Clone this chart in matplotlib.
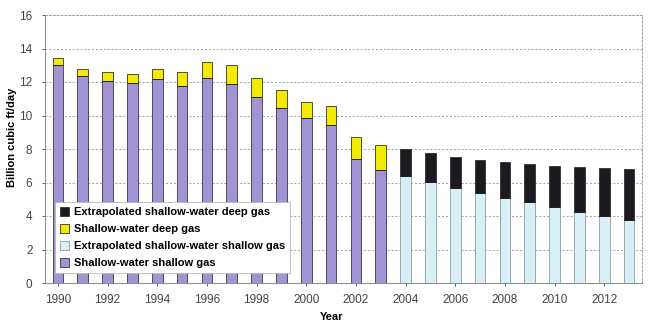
import numpy as np
import matplotlib
matplotlib.use("Agg")
import matplotlib.pyplot as plt

plt.rcParams['font.family'] = ['Liberation Sans', 'DejaVu Sans']

# data (billion cubic ft/day)
years = np.arange(1990, 2014)
shallow_shallow = [13.0, 12.35, 12.08, 11.92, 12.2, 11.78, 12.22, 11.86, 11.09, 10.47,
                   9.83, 9.45, 7.38, 6.75] + [0] * 10
shallow_deep = [0.41, 0.41, 0.5, 0.54, 0.58, 0.84, 0.95, 1.17, 1.17, 1.03,
                0.98, 1.12, 1.35, 1.49] + [0] * 10
extrap_shallow = [0] * 14 + [6.41, 6.05, 5.69, 5.39, 5.07, 4.82, 4.52, 4.26, 4.02, 3.76]
extrap_deep = [0] * 14 + [1.57, 1.69, 1.85, 1.94, 2.14, 2.27, 2.45, 2.65, 2.83, 3.07]

c_purple = '#a294d2'
c_yellow = '#f2ea00'
c_lblue = '#d8eff6'
c_black = '#1c1a1e'

fig = plt.figure(figsize=(6.57, 3.24), dpi=100)
ax = fig.add_axes([45/657, 1 - 283/324, 597/657, 268/324])

w = 0.43
b1 = ax.bar(years, shallow_shallow, w, color=c_purple, edgecolor='#3a3450', linewidth=0.6,
            label='Shallow-water shallow gas', zorder=3)
b2 = ax.bar(years, extrap_shallow, w, color=c_lblue, edgecolor='#7a8c94', linewidth=0.5,
            label='Extrapolated shallow-water shallow gas', zorder=3)
bot = np.array(shallow_shallow) + np.array(extrap_shallow)
b3 = ax.bar(years, shallow_deep, w, bottom=bot, color=c_yellow, edgecolor='#3a3420', linewidth=0.6,
            label='Shallow-water deep gas', zorder=3)
b4 = ax.bar(years, extrap_deep, w, bottom=bot, color=c_black, edgecolor=c_black, linewidth=0.5,
            label='Extrapolated shallow-water deep gas', zorder=3)

ax.set_xlim(1989.48, 2013.52)
ax.set_ylim(0, 16)
ax.set_yticks(range(0, 17, 2))
ax.set_xticks(range(1990, 2013, 2))
ax.yaxis.grid(True, linestyle=(0, (2, 2)), color='#a0a0a0', linewidth=0.7, zorder=0)
for s in ['top', 'right']:
    ax.spines[s].set_linestyle((0, (2, 2)))
    ax.spines[s].set_color('#a0a0a0')
    ax.spines[s].set_linewidth(0.7)
for s in ['left', 'bottom']:
    ax.spines[s].set_color('#909090')
    ax.spines[s].set_linewidth(0.8)
ax.tick_params(labelsize=8.5, colors='#444444', length=2, width=0.6)
ax.tick_params(axis='y', pad=7)
ax.tick_params(axis='x', pad=6)

ax.set_ylabel('Billion cubic ft/day', fontsize=8, fontweight='bold')
ax.yaxis.set_label_coords(-0.047, 0.545)
ax.set_xlabel('Year', fontsize=8, fontweight='bold')
ax.xaxis.set_label_coords(0.48, -0.11)

leg = ax.legend(handles=[b4, b3, b2, b1], loc='lower left', bbox_to_anchor=(0.008, 0.015),
                prop={'size': 8, 'weight': 'bold'}, frameon=True, fancybox=False,
                edgecolor='#b8b8b8', framealpha=1, handlelength=0.8, handleheight=0.8,
                handletextpad=0.4, labelspacing=0.62, borderpad=0.45)
leg.get_frame().set_linewidth(0.6)

fig.savefig('out.png', dpi=100)
